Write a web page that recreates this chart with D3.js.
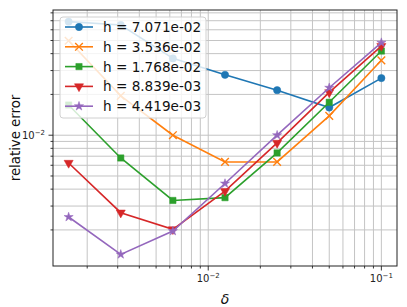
<!DOCTYPE html>
<html>
<head>
<meta charset="utf-8">
<script src="https://cdn.jsdelivr.net/npm/d3@7"></script>
<style>
  html, body { margin: 0; padding: 0; background: #fff; }
  svg { display: block; font-family: "DejaVu Sans", sans-serif; }
</style>
</head>
<body>
<svg id="chart" width="407" height="307"></svg>
<script>
// step sizes (x) and errors per h
const deltas = [0.0015625, 0.003125, 0.00625, 0.0125, 0.025, 0.05, 0.1];
const hLabels = ["h = 7.071e-02", "h = 3.536e-02", "h = 1.768e-02", "h = 8.839e-03", "h = 4.419e-03"];
const err1 = [0.0689, 0.0651, 0.0369, 0.0279, 0.0215, 0.0160, 0.0264];
const err2 = [0.0498, 0.0195, 0.0100, 0.00635, 0.00635, 0.0139, 0.0357];
const err3 = [0.0167, 0.00679, 0.0033, 0.00346, 0.0074, 0.0175, 0.0418];
const err4 = [0.00624, 0.00268, 0.00202, 0.00387, 0.00877, 0.0207, 0.0455];
const err5 = [0.00249, 0.00132, 0.00196, 0.0044, 0.0100, 0.0224, 0.0482];
const colors = ["#1f77b4", "#ff7f0e", "#2ca02c", "#d62728", "#9467bd"];
const markers = ["circle", "x", "square", "tridown", "star"];

const series = [err1, err2, err3, err4, err5].map((v, i) => ({
    name: hLabels[i], color: colors[i], marker: markers[i],
    points: v.map((e, j) => ({ x: deltas[j], y: e }))
}));

const svg = d3.select("#chart");
const margin = { top: 10, right: 10, bottom: 41, left: 53 };
const width = 407, height = 307;
const innerWidth = width - margin.left - margin.right;
const innerHeight = height - margin.top - margin.bottom;

// log domains with 5% padding like matplotlib
function padLog(lo, hi) {
    const a = Math.log10(lo), b = Math.log10(hi), p = (b - a) * 0.05;
    return [Math.pow(10, a - p), Math.pow(10, b + p)];
}
const allY = series.flatMap(s => s.points.map(p => p.y));
const x = d3.scaleLog().domain(padLog(d3.min(deltas), d3.max(deltas))).range([0, innerWidth]);
const y = d3.scaleLog().domain(padLog(d3.min(allY), d3.max(allY))).range([innerHeight, 0]);

const g = svg.append("g").attr("transform", `translate(${margin.left},${margin.top})`);

// tick values in range
function logTicks(scale) {
    const [lo, hi] = scale.domain();
    const major = [], minor = [];
    for (let e = Math.floor(Math.log10(lo)); e <= Math.ceil(Math.log10(hi)); e++) {
        for (let m = 1; m < 10; m++) {
            const v = m * Math.pow(10, e);
            if (v < lo || v > hi) continue;
            (m === 1 ? major : minor).push(v);
        }
    }
    return { major, minor };
}
const xt = logTicks(x), yt = logTicks(y);

// grid
const grid = g.append("g").attr("stroke", "#c4c4c4").attr("stroke-width", 1);
xt.major.concat(xt.minor).forEach(v => {
    grid.append("line").attr("x1", x(v)).attr("x2", x(v)).attr("y1", 0).attr("y2", innerHeight);
});
yt.major.concat(yt.minor).forEach(v => {
    grid.append("line").attr("y1", y(v)).attr("y2", y(v)).attr("x1", 0).attr("x2", innerWidth);
});

// lines + markers
const line = d3.line().x(d => x(d.x)).y(d => y(d.y));
const symbolFor = {
    circle: d3.symbol().type(d3.symbolCircle).size(42),
    x: d3.symbol().type(d3.symbolX).size(40),
    square: d3.symbol().type(d3.symbolSquare).size(40),
    tridown: d3.symbol().type(d3.symbolTriangle).size(36),
    star: d3.symbol().type(d3.symbolStar).size(26)
};
series.forEach(s => {
    const sg = g.append("g");
    sg.append("path").datum(s.points).attr("d", line)
        .attr("fill", "none").attr("stroke", s.color).attr("stroke-width", 1.6);
    sg.selectAll("path.m").data(s.points).join("path").attr("class", "m")
        .attr("d", symbolFor[s.marker])
        .attr("transform", d => `translate(${x(d.x)},${y(d.y)})` + (s.marker === "tridown" ? " rotate(180)" : ""))
        .attr("fill", s.marker === "x" ? "none" : s.color)
        .attr("stroke", s.color).attr("stroke-width", s.marker === "x" ? 1.4 : 0.5);
});

// frame
g.append("rect").attr("width", innerWidth).attr("height", innerHeight)
    .attr("fill", "none").attr("stroke", "#222").attr("stroke-width", 1);

// ticks
const tk = g.append("g").attr("stroke", "#222").attr("stroke-width", 0.9);
xt.major.forEach(v => tk.append("line").attr("x1", x(v)).attr("x2", x(v)).attr("y1", innerHeight).attr("y2", innerHeight + 4.5));
xt.minor.forEach(v => tk.append("line").attr("x1", x(v)).attr("x2", x(v)).attr("y1", innerHeight).attr("y2", innerHeight + 2.5));
yt.major.forEach(v => tk.append("line").attr("y1", y(v)).attr("y2", y(v)).attr("x1", 0).attr("x2", -4.5));
yt.minor.forEach(v => tk.append("line").attr("y1", y(v)).attr("y2", y(v)).attr("x1", 0).attr("x2", -2.5));

function powLabel(sel, v) {
    const e = Math.round(Math.log10(v));
    sel.append("tspan").text("10");
    sel.append("tspan").attr("dy", -4).attr("font-size", 7).text("\u2212" + Math.abs(e));
}
xt.major.forEach(v => {
    const t = g.append("text").attr("x", x(v)).attr("y", innerHeight + 16)
        .attr("text-anchor", "middle").attr("font-size", 10).attr("fill", "#222");
    powLabel(t, v);
});
yt.major.forEach(v => {
    const t = g.append("text").attr("x", -8).attr("y", y(v) + 4)
        .attr("text-anchor", "end").attr("font-size", 10).attr("fill", "#222");
    powLabel(t, v);
});

// axis labels
g.append("text").attr("x", innerWidth / 2).attr("y", innerHeight + 38)
    .attr("text-anchor", "middle").attr("font-size", 14).attr("font-style", "italic")
    .attr("fill", "#111").text("\u03b4");
g.append("text").attr("transform", `translate(${-33},${innerHeight / 2}) rotate(-90)`)
    .attr("text-anchor", "middle").attr("font-size", 13.3).attr("fill", "#111")
    .text("relative error");

// legend
const lg = g.append("g").attr("transform", "translate(7,7)");
lg.append("rect").attr("width", 146).attr("height", 101).attr("rx", 3)
    .attr("fill", "white").attr("fill-opacity", 0.8).attr("stroke", "#d0d0d0");
series.forEach((s, i) => {
    const ry = 10 + i * 19.8;
    lg.append("line").attr("x1", 5).attr("x2", 33).attr("y1", ry).attr("y2", ry)
        .attr("stroke", s.color).attr("stroke-width", 1.6);
    lg.append("path").attr("d", symbolFor[s.marker])
        .attr("transform", `translate(19,${ry})` + (s.marker === "tridown" ? " rotate(180)" : ""))
        .attr("fill", s.marker === "x" ? "none" : s.color)
        .attr("stroke", s.color).attr("stroke-width", s.marker === "x" ? 1.4 : 0.5);
    lg.append("text").attr("x", 43).attr("y", ry + 5).attr("font-size", 13.6)
        .attr("fill", "#111").text(s.name);
});
</script>
</body>
</html>
